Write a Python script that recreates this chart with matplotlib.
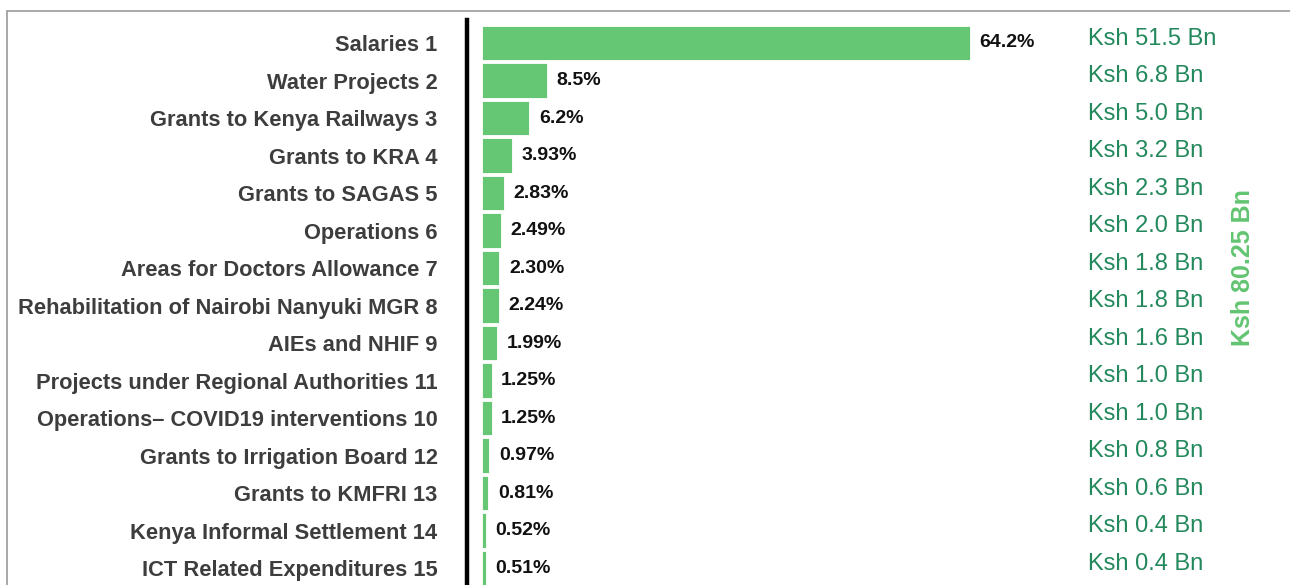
import matplotlib
matplotlib.use('Agg')
import matplotlib.pyplot as plt
import matplotlib.transforms as mtransforms
from matplotlib.patches import Rectangle

plt.rcParams['font.family'] = ['Liberation Sans', 'DejaVu Sans']

categories = ['Salaries 1', 'Water Projects 2', 'Grants to Kenya Railways 3',
              'Grants to KRA 4', 'Grants to SAGAS 5', 'Operations 6',
              'Areas for Doctors Allowance 7', 'Rehabilitation of Nairobi Nanyuki MGR 8',
              'AIEs and NHIF 9', 'Projects under Regional Authorities 11',
              'Operations\u2013 COVID19 interventions 10', 'Grants to Irrigation Board 12',
              'Grants to KMFRI 13', 'Kenya Informal Settlement 14',
              'ICT Related Expenditures 15']
shares = [64.2, 8.5, 6.2, 3.93, 2.83, 2.49, 2.30, 2.24, 1.99, 1.25, 1.25, 0.97, 0.81, 0.52, 0.51]
share_labels = ['64.2%', '8.5%', '6.2%', '3.93%', '2.83%', '2.49%', '2.30%', '2.24%',
                '1.99%', '1.25%', '1.25%', '0.97%', '0.81%', '0.52%', '0.51%']
amounts_bn = [51.5, 6.8, 5.0, 3.2, 2.3, 2.0, 1.8, 1.8, 1.6, 1.0, 1.0, 0.8, 0.6, 0.4, 0.4]
total_label = 'Ksh 80.25 Bn'

bar_color = '#65c673'
fig = plt.figure(figsize=(12.9, 5.85), dpi=100)

# grey frame round the whole graphic
fig.patches.append(Rectangle((7 / 1290, -0.1), 1.2, (585 - 11) / 585 + 0.1,
                             transform=fig.transFigure, fill=False,
                             edgecolor='#9a9a9a', linewidth=1.2))

ax = fig.add_axes([482 / 1290, 0, (1290 - 482) / 1290, 1 - 20 / 585])
ypos = list(range(len(categories)))
ax.barh(ypos, shares, height=0.92, color=bar_color, edgecolor='white', linewidth=0.6)
ax.set_xlim(0, (1290 - 482) / 7.6)
ax.set_ylim(14.45, -0.613)

for sp in ['top', 'right', 'bottom']:
    ax.spines[sp].set_visible(False)
ax.spines['left'].set_position(('outward', 10.5))
ax.spines['left'].set_linewidth(3.2)
ax.spines['left'].set_color('black')
ax.set_xticks([])
ax.set_yticks(ypos)
ax.set_yticklabels(categories, fontsize=15.75, fontweight='bold', color='#3d3d3d')
ax.tick_params(axis='y', length=0, pad=21.5)

for y, v, s in zip(ypos, shares, share_labels):
    ax.annotate(s, (v, y), xytext=(7, 0), textcoords='offset points',
                va='center', ha='left', fontsize=14, fontweight='bold', color='#111111')

# amounts on the right, a little above the bar centre
trans = mtransforms.blended_transform_factory(fig.transFigure, ax.transData)
trans = trans + mtransforms.ScaledTranslation(0, 3 / 72, fig.dpi_scale_trans)
for y, a in zip(ypos, amounts_bn):
    ax.text(1088 / 1290, y, 'Ksh %.1f Bn' % a, transform=trans, va='center', ha='left',
            fontsize=17, color='#23895c')

fig.text(1243 / 1290, 1 - 268 / 585, total_label, rotation=90, ha='center', va='center',
         fontsize=18, fontweight='bold', color='#62c470')

plt.savefig('out.png', dpi=100)
